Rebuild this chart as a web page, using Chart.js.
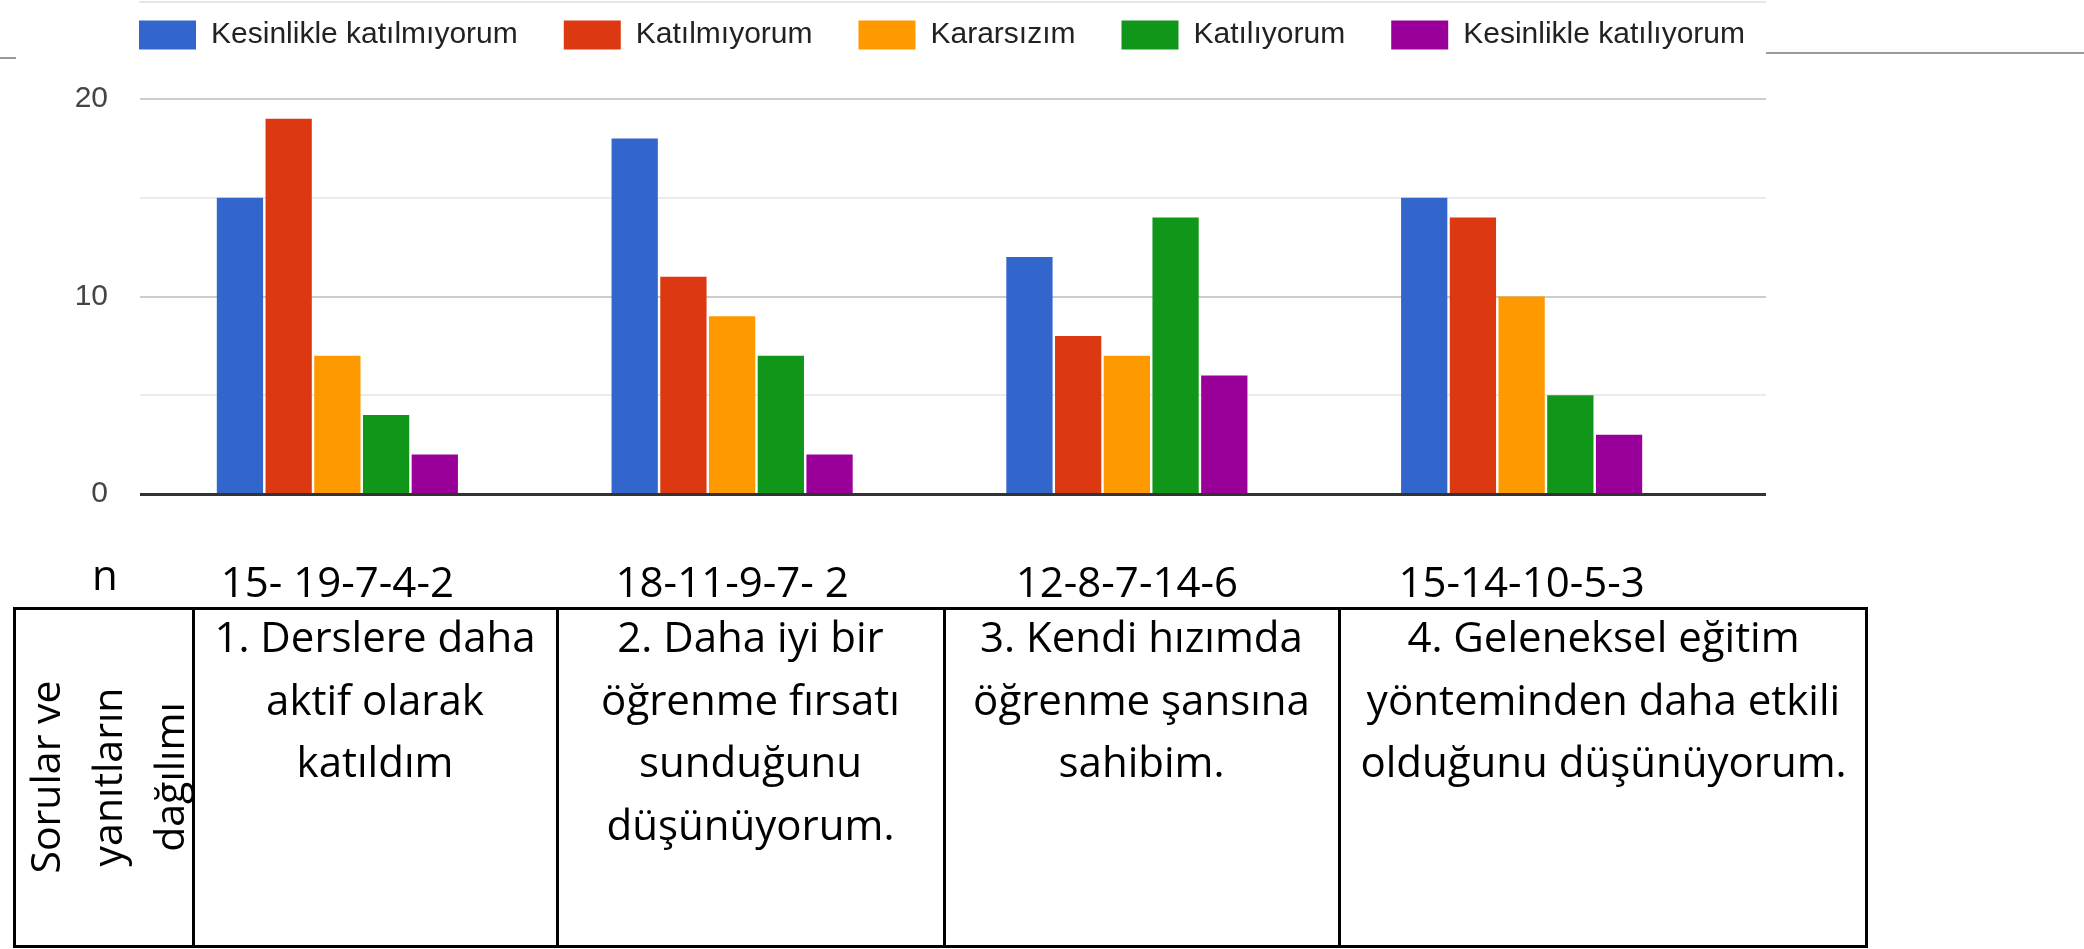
<!DOCTYPE html>
<html>
<head>
<meta charset="utf-8">
<script src="https://cdn.jsdelivr.net/npm/chart.js@4.4.0/dist/chart.umd.min.js"></script>
<style>
  body {
    margin: 0;
    width: 2084px;
    height: 949px;
    background: #fff;
    position: relative;
    overflow: hidden;
    font-family: "Open Sans", sans-serif;
    color: #000;
  }
  #chartBox { position: absolute; left: 0; top: -26px; width: 1884px; height: 634px; }
  .rule { position: absolute; height: 2px; background: #9a9a9a; }
  #topLine { position: absolute; left: 139px; top: 1px; width: 1627px; height: 2px; background: #e6e6e6; }
  #nLabel { position: absolute; left: 85px; top: 553px; width: 40px; text-align: center; font-size: 42px; line-height: 42px; }
  #table { position: absolute; left: 13px; top: 607px; width: 1855px; height: 341px; border: 3px solid #000; box-sizing: border-box; }
  .vline { position: absolute; top: 607px; width: 3px; height: 341px; background: #000; }
  .cell { position: absolute; top: 605px; text-align: center; font-size: 42px; line-height: 62.5px; white-space: pre-line; }
  #sideTitle {
    position: absolute; left: -63px; top: 684px; width: 338px; height: 186px;
    transform: rotate(-90deg); text-align: center; font-size: 41px; line-height: 62px; white-space: pre-line;
  }
</style>
</head>
<body>
<div class="rule" style="left:0;top:57px;width:16px"></div>
<div class="rule" style="left:1766px;top:52px;width:318px"></div>
<div id="topLine"></div>
<div id="chartBox"><canvas id="barChart"></canvas></div>
<div id="nLabel">n</div>
<div id="table"></div>
<div id="sideTitle">Sorular ve
yanıtların
dağılımı</div>

<script>
const questions = [
  "1. Derslere daha\naktif olarak\nkatıldım",
  "2. Daha iyi bir\nöğrenme fırsatı\nsunduğunu\ndüşünüyorum.",
  "3. Kendi hızımda\nöğrenme şansına\nsahibim.",
  "4. Geleneksel eğitim\nyönteminden daha etkili\nolduğunu düşünüyorum."
];
const nLabels = ["15- 19-7-4-2", "18-11-9-7- 2", "12-8-7-14-6", "15-14-10-5-3"];

const seriesNames = [
  "Kesinlikle katılmıyorum",
  "Katılmıyorum",
  "Kararsızım",
  "Katılıyorum",
  "Kesinlikle katılıyorum"
];
const stronglyDisagree = [15, 18, 12, 15];
const disagree = [19, 11, 8, 14];
const undecided = [7, 9, 7, 10];
const agree = [4, 7, 14, 5];
const stronglyAgree = [2, 2, 6, 3];

const colors = ["#3366cc", "#dc3912", "#ff9900", "#109618", "#990099"];
const seriesValues = [stronglyDisagree, disagree, undecided, agree, stronglyAgree];

// table grid (x of the vertical lines)
const colLines = [193, 557, 944, 1339, 1868];

colLines.slice(0, 4).forEach(function (x) {
  const d = document.createElement("div");
  d.className = "vline";
  d.style.left = (x - 1.5) + "px";
  document.body.appendChild(d);
});

questions.forEach(function (q, i) {
  const d = document.createElement("div");
  d.className = "cell";
  d.style.left = colLines[i] + "px";
  d.style.width = (colLines[i + 1] - colLines[i]) + "px";
  d.textContent = q;
  document.body.appendChild(d);
});

// make room between legend and plot like the google chart
const legendSpacer = {
  id: "legendSpacer",
  beforeInit(chart) {
    const fit = chart.legend.fit;
    chart.legend.fit = function () {
      fit.bind(chart.legend)();
      this.height += 39;
    };
  }
};

// gridlines run a bit past the last group, and the dark baseline sits on top of the bars
const gridTail = {
  id: "gridTail",
  afterDatasetsDraw(chart) {
    const { ctx, chartArea, scales } = chart;
    const y = scales.y;
    const end = chartArea.right + 47;
    ctx.save();
    y.ticks.forEach(function (t) {
      const py = Math.round(y.getPixelForValue(t.value));
      ctx.beginPath();
      if (t.value === 0) {
        ctx.strokeStyle = "#333333";
        ctx.lineWidth = 3;
        ctx.moveTo(chartArea.left, py + 0.5);
      } else {
        ctx.strokeStyle = t.value % 10 === 0 ? "#cccccc" : "#ebebeb";
        ctx.lineWidth = 2;
        ctx.moveTo(chartArea.right, py);
      }
      ctx.lineTo(end, t.value === 0 ? py + 0.5 : py);
      ctx.stroke();
    });
    ctx.restore();
  }
};

const ctx = document.getElementById("barChart").getContext("2d");

new Chart(ctx, {
  type: "bar",
  data: {
    labels: nLabels,
    datasets: seriesNames.map(function (name, i) {
      return {
        label: name,
        data: seriesValues[i],
        backgroundColor: colors[i],
        borderWidth: 0,
        categoryPercentage: 0.617,
        barPercentage: 0.95
      };
    })
  },
  options: {
    responsive: true,
    maintainAspectRatio: false,
    animation: false,
    layout: { padding: 0 },
    plugins: {
      tooltip: { enabled: false },
      legend: {
        position: "top",
        labels: {
          boxWidth: 57,
          boxHeight: 29,
          padding: 46,
          color: "#222222",
          font: { family: "'Liberation Sans', Arial, sans-serif", size: 30 }
        }
      }
    },
    scales: {
      x: {
        grid: { display: false },
        border: { display: false },
        ticks: {
          autoSkip: false,
          maxRotation: 0,
          padding: 58,
          color: "#000000",
          font: { family: "'Open Sans', sans-serif", size: 42 }
        },
        afterFit: function (scale) { scale.height = 114; }
      },
      y: {
        min: 0,
        max: 20,
        border: { display: false },
        grid: {
          drawTicks: false,
          lineWidth: 2,
          color: function (c) {
            if (c.tick.value === 0) return "rgba(0,0,0,0)";
            return c.tick.value % 10 === 0 ? "#cccccc" : "#ebebeb";
          }
        },
        ticks: {
          stepSize: 5,
          padding: 32,
          color: "#444444",
          font: { family: "'Liberation Sans', Arial, sans-serif", size: 30 },
          callback: function (v) { return v % 10 === 0 ? v : ""; }
        },
        afterFit: function (scale) { scale.width = 140; }
      },
      // empty right axis, only keeps the plot narrower than the legend row
      yRight: {
        position: "right",
        display: true,
        grid: { display: false },
        border: { display: false },
        ticks: { display: false },
        afterFit: function (scale) { scale.width = 165; }
      }
    }
  },
  plugins: [legendSpacer, gridTail]
});
</script>
</body>
</html>
